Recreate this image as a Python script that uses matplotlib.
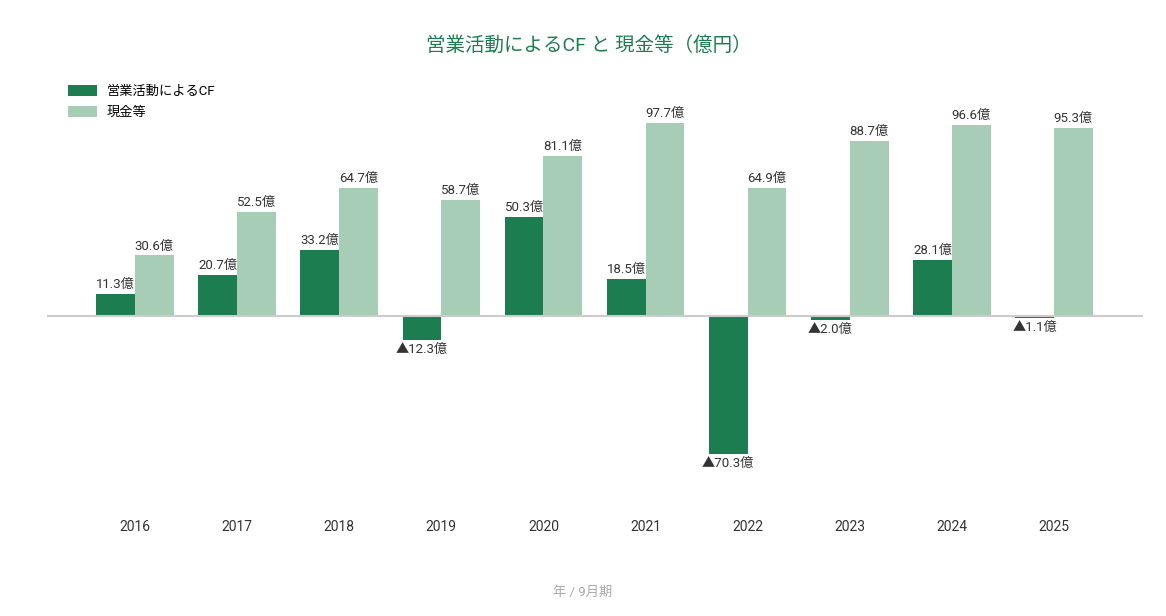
import matplotlib

matplotlib.use("Agg")
import matplotlib.pyplot as plt
import numpy as np

plt.rcParams["font.family"] = ["Roboto", "Noto Sans CJK JP", "DejaVu Sans"]

years = ["2016", "2017", "2018", "2019", "2020", "2021", "2022", "2023", "2024", "2025"]
operating_cf = [11.3, 20.7, 33.2, -12.3, 50.3, 18.5, -70.3, -2.0, 28.1, -1.1]
cash = [30.6, 52.5, 64.7, 58.7, 81.1, 97.7, 64.9, 88.7, 96.6, 95.3]

DARK = "#1b7d50"
LIGHT = "#a8cdb6"
TEXT = "#333333"


def fmt(v):
    return f"▲{abs(v):.1f}億" if v < 0 else f"{v:.1f}億"


W, H = 1166, 616
fig = plt.figure(figsize=(W / 100, H / 100), dpi=100)
ax = fig.add_axes([47 / W, 1 - 503 / H, (1143 - 47) / W, (503 - 99) / H])

x = np.arange(len(years))
bw = 0.38
b1 = ax.bar(x - bw / 2, operating_cf, bw, color=DARK, label="営業活動によるCF", zorder=2)
b2 = ax.bar(x + bw / 2, cash, bw, color=LIGHT, label="現金等", zorder=2)

for bars, vals in ((b1, operating_cf), (b2, cash)):
    for rect, v in zip(bars, vals):
        cx = rect.get_x() + rect.get_width() / 2
        if v >= 0:
            ax.text(cx, v + 1.5, fmt(v), ha="center", va="bottom", fontsize=9.5, color=TEXT)
        else:
            ax.text(cx, v - 1.5, fmt(v), ha="center", va="top", fontsize=9.5, color=TEXT)

ax.axhline(0, color="#cccccc", lw=1.5, zorder=3)
ax.set_xlim(-0.862, 9.872)
ax.set_ylim(-95, 110)
for s in ax.spines.values():
    s.set_visible(False)
ax.set_yticks([])
ax.set_xticks([])
for xi, yr in zip(x, years):
    fig.text((135 + xi * 102.1) / W, 1 - 527 / H, yr, ha="center", va="center", fontsize=10, color=TEXT)

fig.text(589 / W, 1 - 45 / H, "営業活動によるCF と 現金等（億円）", ha="center", va="center",
         fontsize=14, color=DARK)
fig.text(583 / W, 1 - 592 / H, "年 / 9月期", ha="center", va="center", fontsize=9.5, color="#aaaaaa")

fig.legend(handles=[b1, b2], loc="upper left", bbox_to_anchor=(63 / W, 1 - 80 / H),
           frameon=False, fontsize=9.5, handlelength=2.2, handleheight=0.9,
           labelspacing=0.6, handletextpad=0.7, borderaxespad=0)

fig.savefig("out.png", dpi=100)
